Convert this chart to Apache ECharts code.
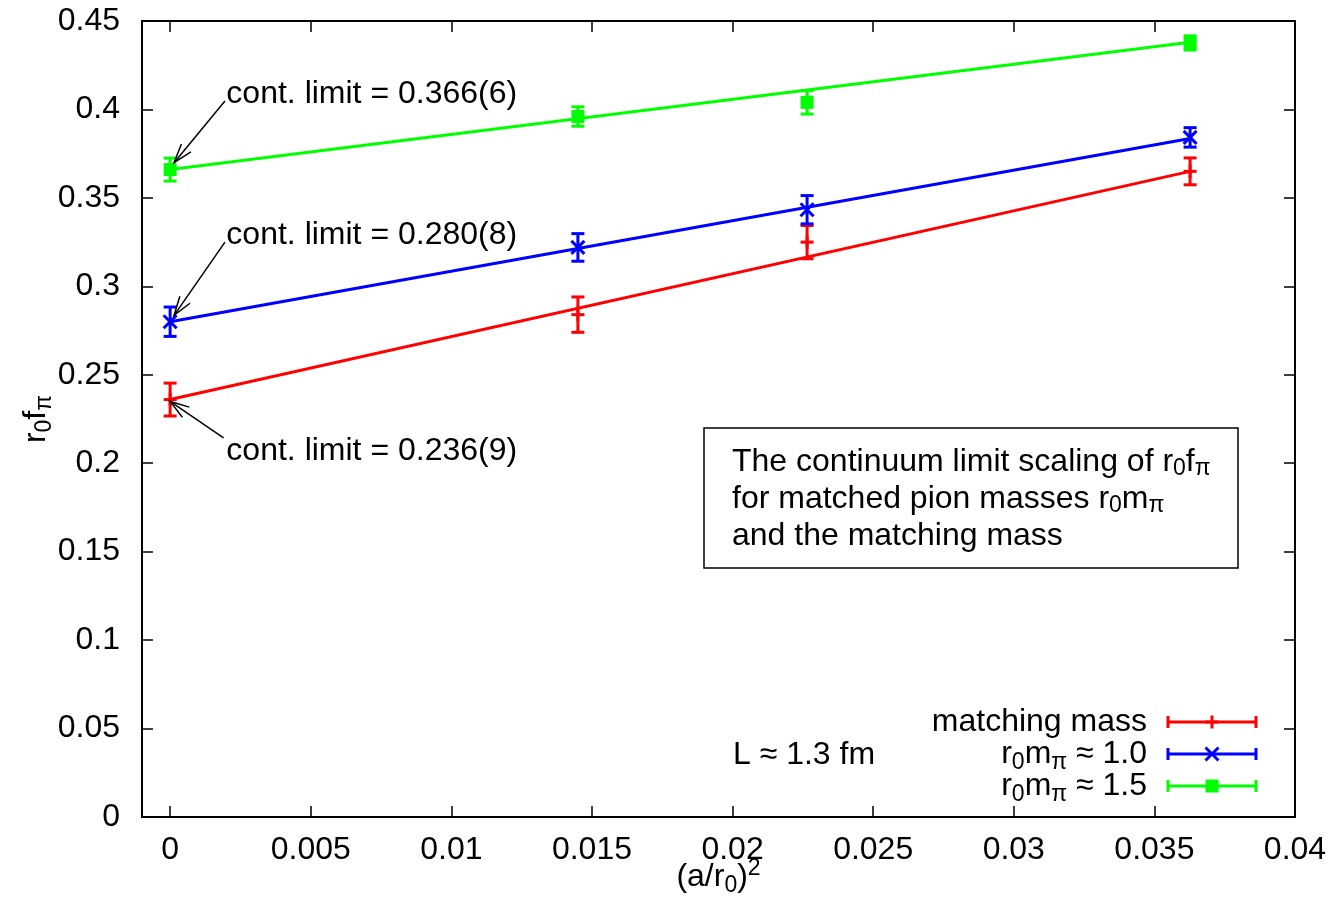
<!DOCTYPE html>
<html>
<head>
<meta charset="utf-8">
<script src="https://cdn.jsdelivr.net/npm/echarts@6/dist/echarts.min.js"></script>
<style>
html,body{margin:0;padding:0;background:#fff;}
#c{width:1336px;height:908px;}
</style>
</head>
<body>
<div id="c"></div>
<script>
// ---------------- data ----------------
const xValues = [0, 0.0145, 0.02265, 0.03627];
const matchingMass = [0.236, 0.284, 0.325, 0.365];
const matchingMassErr = [0.0093, 0.0100, 0.0094, 0.0076];
const r0mpi10 = [0.280, 0.322, 0.3433, 0.3842];
const r0mpi10Err = [0.0083, 0.0078, 0.0080, 0.0055];
const r0mpi15 = [0.366, 0.396, 0.404, 0.4376];
const r0mpi15Err = [0.0065, 0.0055, 0.0066, 0.0040];
const fitX = [0, 0.03627];
const fitMatching = [0.236, 0.365];
const fitR0mpi10 = [0.280, 0.3836];
const fitR0mpi15 = [0.366, 0.438];
const xTicks = [0, 0.005, 0.01, 0.015, 0.02, 0.025, 0.03, 0.035, 0.04];
const yTicks = [0, 0.05, 0.1, 0.15, 0.2, 0.25, 0.3, 0.35, 0.4, 0.45];
const seriesNames = ['matching mass', 'r{s|0}m{s|π} ≈ 1.0', 'r{s|0}m{s|π} ≈ 1.5'];
const contLimitText = ['cont. limit = 0.366(6)', 'cont. limit = 0.280(8)', 'cont. limit = 0.236(9)'];
const boxText = ['The continuum limit scaling of r{s|0}f{s|π}', 'for matched pion masses r{s|0}m{s|π}', 'and the matching mass'];
const volumeText = 'L ≈ 1.3 fm';

// ---------------- styles ----------------
const FONT = "'Liberation Sans', Arial, Helvetica, sans-serif";
const FS = 32;
const SFS = 23;
const RED = '#ff0000', BLUE = '#0000ff', GREEN = '#00ff00';
const richStyles = {
  n: {fontFamily: FONT, fontSize: FS, color: '#000', lineHeight: 40},
  s: {fontFamily: FONT, fontSize: SFS, color: '#000', lineHeight: 10, verticalAlign: 'bottom'},
  p: {fontFamily: FONT, fontSize: SFS, color: '#000', lineHeight: 12, verticalAlign: 'top'}
};
function richify(str) {
  return str.split('\n').map(line => {
    const parts = [];
    const re = /\{(\w)\|([^}]*)\}/g;
    let last = 0, m;
    while ((m = re.exec(line)) !== null) {
      if (m.index > last) parts.push('{n|' + line.slice(last, m.index) + '}');
      parts.push(m[0]);
      last = re.lastIndex;
    }
    if (last < line.length) parts.push('{n|' + line.slice(last) + '}');
    return parts.join('');
  }).join('\n');
}
function fmt(v) { return String(+v.toFixed(4)); }

const datasets = [
  {name: seriesNames[0], y: matchingMass, err: matchingMassErr, fit: fitMatching, color: RED, marker: 'plus'},
  {name: seriesNames[1], y: r0mpi10, err: r0mpi10Err, fit: fitR0mpi10, color: BLUE, marker: 'cross'},
  {name: seriesNames[2], y: r0mpi15, err: r0mpi15Err, fit: fitR0mpi15, color: GREEN, marker: 'square'}
];

function markerShapes(kind, cx, cy, color) {
  const st = {stroke: color, lineWidth: 3};
  const h = 6.5;
  if (kind === 'plus') {
    return [{type: 'line', shape: {x1: cx - h, y1: cy, x2: cx + h, y2: cy}, style: st},
            {type: 'line', shape: {x1: cx, y1: cy - h, x2: cx, y2: cy + h}, style: st}];
  }
  if (kind === 'cross') {
    return [{type: 'line', shape: {x1: cx - h, y1: cy - h, x2: cx + h, y2: cy + h}, style: st},
            {type: 'line', shape: {x1: cx - h, y1: cy + h, x2: cx + h, y2: cy - h}, style: st}];
  }
  return [{type: 'rect', shape: {x: cx - 6.5, y: cy - 6.5, width: 13, height: 13}, style: {fill: color}}];
}

const series = [];
datasets.forEach((d) => {
  series.push({
    type: 'line', name: d.name + ' fit', silent: true, symbol: 'none', z: 2,
    data: fitX.map((x, i) => [x, d.fit[i]]),
    lineStyle: {color: d.color, width: 3}
  });
});
datasets.forEach((d) => {
  series.push({
    type: 'custom', name: d.name, z: 3, silent: true,
    data: xValues.map((x, i) => [x, d.y[i], d.err[i]]),
    renderItem: function (params, api) {
      const x = api.value(0), y = api.value(1), e = api.value(2);
      const c = api.coord([x, y]);
      const t = api.coord([x, y + e]);
      const b = api.coord([x, y - e]);
      const st = {stroke: d.color, lineWidth: 3};
      const cw = 6.5;
      const children = [
        {type: 'line', shape: {x1: c[0], y1: t[1], x2: c[0], y2: b[1]}, style: st},
        {type: 'line', shape: {x1: c[0] - cw, y1: t[1], x2: c[0] + cw, y2: t[1]}, style: st},
        {type: 'line', shape: {x1: c[0] - cw, y1: b[1], x2: c[0] + cw, y2: b[1]}, style: st}
      ].concat(markerShapes(d.marker, c[0], c[1], d.color));
      return {type: 'group', children: children};
    }
  });
});

const axisLineStyle = {color: '#000', width: 2};
const tickStyle = {color: '#000', width: 1.5};
function xAxisDef(pos, showLabel) {
  return {
    type: 'value', position: pos, min: -0.001, max: 0.04,
    nameMoveOverlap: false,
    axisLine: {show: true, onZero: false, lineStyle: axisLineStyle},
    axisTick: {show: true, inside: true, length: 11, customValues: xTicks, lineStyle: tickStyle},
    axisLabel: {show: showLabel, customValues: xTicks, formatter: fmt, margin: 17,
                fontFamily: FONT, fontSize: FS, color: '#000'},
    splitLine: {show: false}
  };
}
function yAxisDef(pos, showLabel) {
  return {
    type: 'value', position: pos, min: 0, max: 0.45, interval: 0.05,
    nameMoveOverlap: false,
    axisLine: {show: true, onZero: false, lineStyle: axisLineStyle},
    axisTick: {show: true, inside: true, length: 11, lineStyle: tickStyle},
    axisLabel: {show: showLabel, formatter: fmt, margin: 22,
                fontFamily: FONT, fontSize: FS, color: '#000'},
    splitLine: {show: false}
  };
}

const xA = xAxisDef('bottom', true);
xA.name = richify('(a/r{s|0}){p|2}');
xA.nameLocation = 'middle';
xA.nameGap = 40;
xA.nameTextStyle = {rich: richStyles};
const yA = yAxisDef('left', true);
yA.name = richify('r{s|0}f{s|π}');
yA.nameLocation = 'middle';
yA.nameRotate = 90;
yA.nameGap = 86;
yA.nameTextStyle = {rich: richStyles};

const chart = echarts.init(document.getElementById('c'));
chart.setOption({
  animation: false,
  backgroundColor: '#fff',
  grid: {left: 142, right: 41, top: 21, bottom: 91, containLabel: false, outerBoundsMode: 'none'},
  xAxis: [xA, xAxisDef('top', false)],
  yAxis: [yA, yAxisDef('right', false)],
  series: series
});

// ---------------- annotations ----------------
const annotations = [
  {text: contLimitText[0], label: [0.0020, 0.4085], from: [0.00195, 0.4048], to: [0.00014, 0.3699]},
  {text: contLimitText[1], label: [0.0020, 0.3287], from: [0.00195, 0.3250], to: [0.00014, 0.2836]},
  {text: contLimitText[2], label: [0.0020, 0.2066], from: [0.00190, 0.2143], to: [0.00000, 0.2349]}
];
const P = v => chart.convertToPixel({xAxisIndex: 0, yAxisIndex: 0}, v);
const graphics = [];
annotations.forEach(a => {
  const l = P(a.label), f = P(a.from), t = P(a.to);
  graphics.push({type: 'text', x: l[0], y: l[1], z: 10,
    style: {text: a.text, font: FS + 'px ' + FONT, fill: '#000', textAlign: 'left', textVerticalAlign: 'middle'}});
  const ang = Math.atan2(t[1] - f[1], t[0] - f[0]);
  const hl = 20, ha = 18 * Math.PI / 180;
  const p1 = [t[0] - hl * Math.cos(ang - ha), t[1] - hl * Math.sin(ang - ha)];
  const p2 = [t[0] - hl * Math.cos(ang + ha), t[1] - hl * Math.sin(ang + ha)];
  graphics.push({type: 'line', z: 10, shape: {x1: f[0], y1: f[1], x2: t[0], y2: t[1]}, style: {stroke: '#000', lineWidth: 1.5}});
  graphics.push({type: 'polyline', z: 10, shape: {points: [p1, t, p2]}, style: {stroke: '#000', lineWidth: 1.5, fill: null}});
});

// info box
graphics.push({type: 'rect', z: 10, shape: {x: 704, y: 428, width: 534, height: 140},
  style: {fill: '#fff', stroke: '#000', lineWidth: 1.5}});
graphics.push({type: 'text', z: 11, x: 732, y: 499,
  style: {text: richify(boxText.join('\n')), rich: {
      n: Object.assign({}, richStyles.n, {lineHeight: 37}),
      s: Object.assign({}, richStyles.s, {lineHeight: 7})}, textAlign: 'left', textVerticalAlign: 'middle'}});

// volume label
graphics.push({type: 'text', z: 10, x: 733, y: 755,
  style: {text: volumeText, font: FS + 'px ' + FONT, fill: '#000', textAlign: 'left', textVerticalAlign: 'middle'}});

// legend
const legendRowY = [722, 754, 786];
datasets.forEach((d, i) => {
  const y = legendRowY[i];
  graphics.push({type: 'text', z: 10, x: 1147, y: y,
    style: {text: richify(d.name), rich: richStyles, textAlign: 'right', textVerticalAlign: 'middle'}});
  const st = {stroke: d.color, lineWidth: 3};
  const x1 = 1168, x2 = 1256, xm = 1212;
  graphics.push({type: 'line', z: 10, shape: {x1: x1, y1: y, x2: x2, y2: y}, style: st});
  graphics.push({type: 'line', z: 10, shape: {x1: x1, y1: y - 6, x2: x1, y2: y + 6}, style: st});
  graphics.push({type: 'line', z: 10, shape: {x1: x2, y1: y - 6, x2: x2, y2: y + 6}, style: st});
  markerShapes(d.marker, xm, y, d.color).forEach(s => { s.z = 10; graphics.push(s); });
});

chart.setOption({graphic: graphics});
</script>
</body>
</html>
